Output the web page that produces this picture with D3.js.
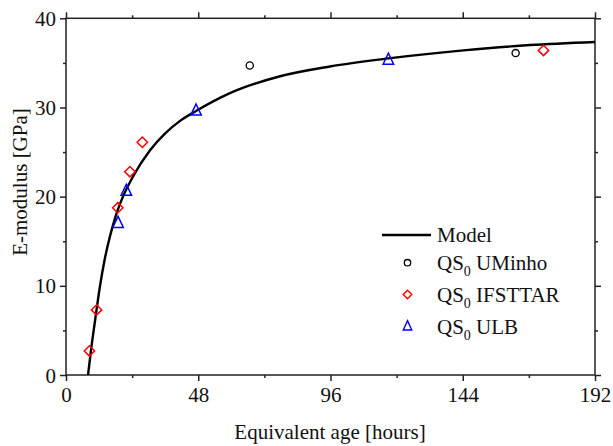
<!DOCTYPE html>
<html>
<head>
<meta charset="utf-8">
<script src="https://cdn.jsdelivr.net/npm/d3@7"></script>
<style>
  html, body { margin: 0; padding: 0; background: #fff; }
  svg text { font-family: "Liberation Serif", "Times New Roman", Times, "DejaVu Serif", serif; fill: #111; }
</style>
</head>
<body>
<svg id="chart" width="613" height="446"></svg>
<script>
// Model curve (equivalent age in hours, E-modulus in GPa)
const modelAge = [8.0, 9.0, 10.5, 12.3, 14.0, 16.0, 18.0, 20.0, 24.4, 30.5, 36.0, 41.4, 47.2, 59.5, 77.7, 95.8, 117, 144.3, 168.4, 192];
const modelE   = [0.0, 2.6, 6.0, 9.9, 12.9, 15.6, 17.8, 19.5, 22.3, 25.2, 27.1, 28.5, 29.6, 31.6, 33.5, 34.6, 35.5, 36.4, 37.0, 37.35];

// Measured series
const uminhoAge = [66.7, 163.2];
const uminhoE   = [34.7, 36.1];
const ifsttarAge = [8.5, 11.1, 18.8, 23.2, 27.7, 173.3];
const ifsttarE   = [2.7, 7.3, 18.75, 22.8, 26.1, 36.4];
const ulbAge = [18.9, 21.9, 47.2, 117.0];
const ulbE   = [17.0, 20.6, 29.6, 35.3];

const xTicks = [0, 48, 96, 144, 192];
const xMinor = [24, 72, 120, 168];
const yTicks = [0, 10, 20, 30, 40];
const yMinor = [5, 15, 25, 35];

const legendLabels = ["Model", "UMinho", "IFSTTAR", "ULB"];

const FONT = '"Liberation Serif", "Times New Roman", Times, "DejaVu Serif", serif';
const FS = 21;

const svg = d3.select("#chart");
const L = 66, R = 595, T = 18.3, B = 375;
const x = d3.scaleLinear().domain([0, 192]).range([L, R]);
const y = d3.scaleLinear().domain([0, 40]).range([B, T]);

const axisColor = "#222";
const axW = 1.5;

function styleAxis(g) {
  g.selectAll("path, line").attr("stroke", axisColor).attr("stroke-width", axW);
  g.select(".domain").remove();
}

// Frame lines
svg.append("rect")
  .attr("x", L).attr("y", T).attr("width", R - L).attr("height", B - T)
  .attr("fill", "none").attr("stroke", axisColor).attr("stroke-width", axW);

// Bottom axis: labelled major ticks and minor ticks
svg.append("g").attr("transform", `translate(0,${B})`)
  .call(d3.axisBottom(x).tickValues(xTicks).tickSize(6).tickPadding(6).tickFormat(d3.format("d")))
  .call(styleAxis)
  .call(g => g.selectAll("text").attr("font-size", FS).attr("font-family", FONT).attr("fill", "#111"));
svg.append("g").attr("transform", `translate(0,${B})`)
  .call(d3.axisBottom(x).tickValues(xMinor).tickSize(3).tickFormat(""))
  .call(styleAxis);

// Top axis (ticks only)
svg.append("g").attr("transform", `translate(0,${T})`)
  .call(d3.axisTop(x).tickValues(xTicks).tickSize(6).tickFormat(""))
  .call(styleAxis);
svg.append("g").attr("transform", `translate(0,${T})`)
  .call(d3.axisTop(x).tickValues(xMinor).tickSize(3).tickFormat(""))
  .call(styleAxis);

// Left axis
svg.append("g").attr("transform", `translate(${L},0)`)
  .call(d3.axisLeft(y).tickValues(yTicks).tickSize(6).tickPadding(4).tickFormat(d3.format("d")))
  .call(styleAxis)
  .call(g => g.selectAll("text").attr("font-size", FS).attr("font-family", FONT).attr("fill", "#111").attr("dy", "0.34em"));
svg.append("g").attr("transform", `translate(${L},0)`)
  .call(d3.axisLeft(y).tickValues(yMinor).tickSize(3).tickFormat(""))
  .call(styleAxis);

// Right axis (ticks only)
svg.append("g").attr("transform", `translate(${R},0)`)
  .call(d3.axisRight(y).tickValues(yTicks).tickSize(6).tickFormat(""))
  .call(styleAxis);
svg.append("g").attr("transform", `translate(${R},0)`)
  .call(d3.axisRight(y).tickValues(yMinor).tickSize(3).tickFormat(""))
  .call(styleAxis);

// Axis titles
svg.append("text")
  .attr("x", 330).attr("y", 439)
  .attr("text-anchor", "middle").attr("font-size", FS).attr("font-family", FONT)
  .text("Equivalent age [hours]");
svg.append("text")
  .attr("transform", `translate(27,182) rotate(-90)`)
  .attr("text-anchor", "middle").attr("font-size", FS).attr("font-family", FONT)
  .text("E-modulus [GPa]");

// Model curve
const modelPts = modelAge.map((a, i) => [a, modelE[i]]);
const line = d3.line().x(d => x(d[0])).y(d => y(d[1])).curve(d3.curveMonotoneX);
svg.append("path").datum(modelPts)
  .attr("d", line).attr("fill", "none")
  .attr("stroke", "#000").attr("stroke-width", 2.4);

// Marker shapes
function diamondPath(s) { return `M0,${-s}L${s},0L0,${s}L${-s},0Z`; }
function trianglePath(s) {
  const h = s * Math.sqrt(3) / 2;
  return `M0,${-h * 2 / 3 - 1}L${s / 2},${h / 3 + 1}L${-s / 2},${h / 3 + 1}Z`;
}

function drawCircles(g, ages, vals, r) {
  g.selectAll(null).data(ages.map((a, i) => [a, vals[i]])).enter().append("circle")
    .attr("cx", d => x(d[0])).attr("cy", d => y(d[1])).attr("r", r)
    .attr("fill", "none").attr("stroke", "#000").attr("stroke-width", 1.3);
}
function drawDiamonds(g, ages, vals, s) {
  g.selectAll(null).data(ages.map((a, i) => [a, vals[i]])).enter().append("path")
    .attr("transform", d => `translate(${x(d[0])},${y(d[1])})`)
    .attr("d", diamondPath(s))
    .attr("fill", "none").attr("stroke", "#ff0000").attr("stroke-width", 1.5);
}
function drawTriangles(g, ages, vals, s) {
  g.selectAll(null).data(ages.map((a, i) => [a, vals[i]])).enter().append("path")
    .attr("transform", d => `translate(${x(d[0])},${y(d[1])})`)
    .attr("d", trianglePath(s))
    .attr("fill", "none").attr("stroke", "#0000ff").attr("stroke-width", 1.5);
}

const pts = svg.append("g");
drawCircles(pts, uminhoAge, uminhoE, 3.6);
drawDiamonds(pts, ifsttarAge, ifsttarE, 5.2);
drawTriangles(pts, ulbAge, ulbE, 10.5);

// Legend
const lg = svg.append("g");
const lx = 437;
lg.append("line").attr("x1", 382).attr("x2", 431).attr("y1", 235).attr("y2", 235)
  .attr("stroke", "#000").attr("stroke-width", 2.4);
lg.append("text").attr("x", lx).attr("y", 242).attr("font-size", FS).attr("font-family", FONT).text(legendLabels[0]);

const rows = [
  { cy: 262.7, base: 270, label: legendLabels[1], kind: "c" },
  { cy: 294.5, base: 302, label: legendLabels[2], kind: "d" },
  { cy: 326.5, base: 334, label: legendLabels[3], kind: "t" }
];
rows.forEach(r => {
  if (r.kind === "c") {
    lg.append("circle").attr("cx", 407.5).attr("cy", r.cy).attr("r", 3.2)
      .attr("fill", "none").attr("stroke", "#000").attr("stroke-width", 1.3);
  } else if (r.kind === "d") {
    lg.append("path").attr("transform", `translate(407.5,${r.cy})`).attr("d", diamondPath(4.3))
      .attr("fill", "none").attr("stroke", "#ff0000").attr("stroke-width", 1.4);
  } else {
    lg.append("path").attr("transform", `translate(407.5,${r.cy})`).attr("d", trianglePath(8.5))
      .attr("fill", "none").attr("stroke", "#0000ff").attr("stroke-width", 1.4);
  }
  const t = lg.append("text").attr("x", lx).attr("y", r.base).attr("font-size", FS).attr("font-family", FONT);
  t.append("tspan").text("QS");
  t.append("tspan").attr("font-size", 14).attr("dy", 6).text("0");
  t.append("tspan").attr("dy", -6).text("\u00a0" + r.label);
});
</script>
</body>
</html>
